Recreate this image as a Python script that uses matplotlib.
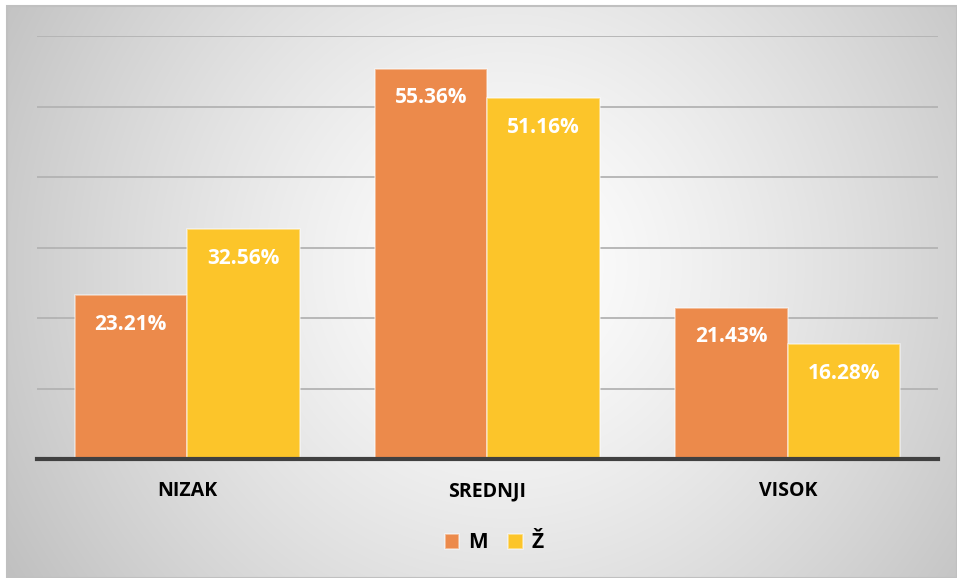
import numpy as np
import matplotlib
matplotlib.use("Agg")
import matplotlib.pyplot as plt

categories = ["NIZAK", "SREDNJI", "VISOK"]
series_names = ["M", "Ž"]
values_m = [23.21, 55.36, 21.43]
values_z = [32.56, 51.16, 16.28]

FONT = "Open Sans"
W, H = 957, 578
fig = plt.figure(figsize=(W / 100, H / 100), dpi=100)
fig.patch.set_facecolor("white")

# background radial gradient chart area
bg = fig.add_axes([7 / W, 0, (W - 7) / W, (H - 6) / H])
bw, bh = W - 7, H - 6
yy, xx = np.mgrid[0:bh, 0:bw]
cx, cy = 500, 260
d = np.sqrt((xx - cx) ** 2 + (yy - cy) ** 2)
v = 255 - 62 * np.clip(d / 580, 0, 1.2) ** 1.3
img = np.dstack([v, v, v]) / 255.0
bg.imshow(np.clip(img, 0, 1), aspect="auto", extent=[0, 1, 0, 1], origin="upper")
bg.set_axis_off()
fig.patches.append(plt.Rectangle((7 / W, 0), (W - 7) / W, (H - 6) / H, transform=fig.transFigure,
                                 fill=False, edgecolor="#c0c0c0", linewidth=1.5))

left, right = 37 / W, 938 / W
bottom, top = (H - 459) / H, (H - 36) / H
ax = fig.add_axes([left, bottom, right - left, top - bottom])
ax.patch.set_alpha(0)

x = np.arange(len(categories))
bw_ = 0.375
c_m = "#EC8A4B"
c_z = "#FCC52A"
b1 = ax.bar(x - bw_ / 2, values_m, bw_, color=c_m, edgecolor=(1, 1, 1, 0.5), linewidth=1.2,
            label=series_names[0], zorder=3)
b2 = ax.bar(x + bw_ / 2, values_z, bw_, color=c_z, edgecolor=(1, 1, 1, 0.5), linewidth=1.2,
            label=series_names[1], zorder=3)

for bars, vals in ((b1, values_m), (b2, values_z)):
    for rect, val in zip(bars, vals):
        ax.annotate(f"{val:.2f}%", (rect.get_x() + rect.get_width() / 2, val),
                    xytext=(0, -29), textcoords="offset pixels", ha="center", va="center",
                    color="white", fontsize=15, fontweight="bold", family=FONT, zorder=5)

ax.set_xlim(-0.5, 2.5)
ax.set_ylim(0, 60)
ax.set_yticks(np.arange(10, 61, 10))
ax.yaxis.grid(True, color="#b3b3b3", linewidth=1.3, zorder=0)
ax.tick_params(axis="y", left=False, labelleft=False)
ax.set_xticks(x)
ax.set_xticklabels(categories, fontsize=14, fontweight="bold", family=FONT, color="black")
ax.tick_params(axis="x", length=0, pad=16)
for s in ["top", "right", "left"]:
    ax.spines[s].set_visible(False)
ax.spines["bottom"].set_color("#404040")
ax.spines["bottom"].set_linewidth(3)
ax.spines["bottom"].set_zorder(6)

leg = fig.legend(handles=[b1, b2], labels=series_names, loc="center",
                 bbox_to_anchor=(494 / W, (H - 543) / H), ncol=2, frameon=False,
                 prop={"family": FONT, "weight": "bold", "size": 15},
                 handlelength=0.7, handleheight=0.7, handletextpad=0.4, columnspacing=1.0)

fig.savefig("out.png", dpi=100)
